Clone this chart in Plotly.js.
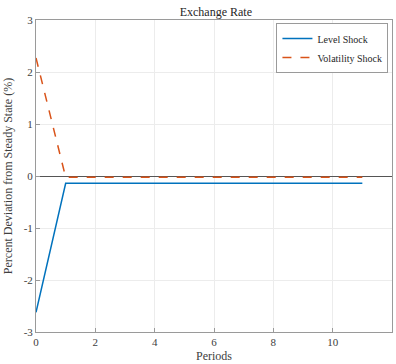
<!DOCTYPE html>
<html><head><meta charset="utf-8">
<script src="https://cdn.plot.ly/plotly-3.0.1.min.js"></script>
<style>html,body{margin:0;padding:0;background:#fff}#c{width:396px;height:364px}</style>
</head><body><div id="c"></div>
<script>
const periods = [0,1,2,3,4,5,6,7,8,9,10,11];
const levelShock = [-2.62,-0.14,-0.14,-0.14,-0.14,-0.14,-0.14,-0.14,-0.14,-0.14,-0.14,-0.14];
const volatilityShock = [2.27,-0.025,-0.025,-0.025,-0.025,-0.025,-0.025,-0.025,-0.025,-0.025,-0.025,-0.025];
const xTicks = [0,2,4,6,8,10,12];
const yTicks = [-3,-2,-1,0,1,2,3];
const yTickText = ['-3','-2','-1','0','1','2','3'];

const fam = "'Liberation Serif', 'Times New Roman', Times, serif";
const axisCommon = {
  showline:true, mirror:true, linecolor:'#9a9a9a', linewidth:1,
  ticks:'inside', ticklen:4, tickcolor:'#9a9a9a',
  showgrid:true, gridcolor:'#ececec', gridwidth:1,
  tickfont:{family:fam, size:11, color:'#404040'}
};
Plotly.newPlot('c', [
  {x:periods, y:levelShock, mode:'lines', name:'Level Shock', line:{color:'#0072BD', width:1.5}},
  {x:periods, y:volatilityShock, mode:'lines', name:'Volatility Shock', line:{color:'#D95319', width:1.5, dash:'dash'}}
], {
  width:396, height:364,
  margin:{l:36, r:4, t:20, b:32},
  paper_bgcolor:'#fff', plot_bgcolor:'#fff',
  font:{family:fam, size:11, color:'#262626'},
  title:{text:'Exchange Rate', x:0.545, xanchor:'center', y:0.98, yanchor:'top', font:{family:fam, size:12, color:'#262626'}},
  xaxis:Object.assign({}, axisCommon, {range:[0,12], tickvals:xTicks, zeroline:false,
    title:{text:'Periods', standoff:4, font:{family:fam, size:12, color:'#404040'}}}),
  yaxis:Object.assign({}, axisCommon, {range:[-3,3], tickvals:yTicks, ticktext:yTickText, zeroline:true, zerolinecolor:'#555555', zerolinewidth:1,
    title:{text:'Percent Deviation from Steady State (%)', standoff:8, font:{family:fam, size:12, color:'#404040'}}}),
  showlegend:true,
  legend:{x:0.99, xanchor:'right', y:0.99, yanchor:'top', bgcolor:'#fff', bordercolor:'#9a9a9a', borderwidth:1,
    font:{family:fam, size:10, color:'#262626'}, tracegroupgap:0, itemwidth:30}
}, {displayModeBar:false, staticPlot:true});
</script></body></html>
